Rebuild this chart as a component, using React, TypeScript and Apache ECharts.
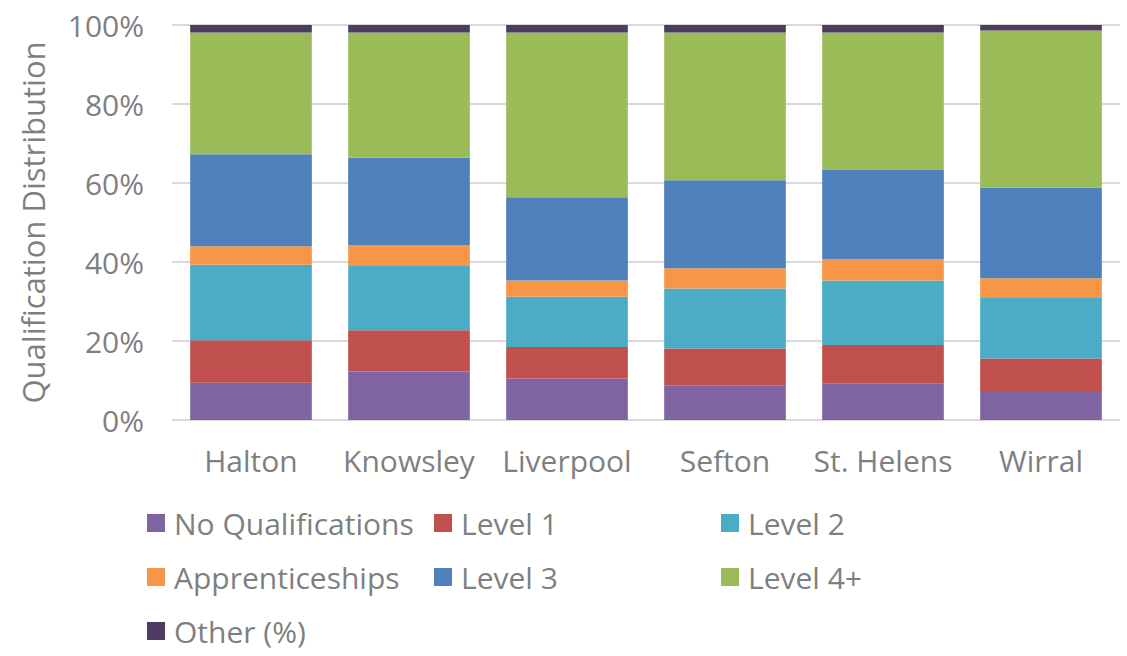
import React, { useEffect, useRef } from "react";
import * as echarts from "echarts";

const categories = ["Halton", "Knowsley", "Liverpool", "Sefton", "St. Helens", "Wirral"];
const noQualifications = [9.4, 12.3, 10.5, 8.8, 9.3, 7.1];
const level1 = [10.8, 10.4, 8.0, 9.3, 9.7, 8.5];
const level2 = [19.1, 16.3, 12.7, 15.2, 16.3, 15.3];
const apprenticeships = [4.7, 5.3, 4.1, 5.1, 5.4, 5.0];
const level3 = [23.3, 22.1, 21.1, 22.3, 22.6, 22.9];
const level4 = [30.8, 31.7, 41.7, 37.4, 34.8, 39.8];
const other = [1.9, 1.9, 1.9, 1.9, 1.9, 1.4];
const yTicks = [0, 20, 40, 60, 80, 100];

const FONT = "Open Sans";
const GREY = "#7f7f7f";
const FS = 30;

export default function App() {
  const ref = useRef<HTMLDivElement>(null);
  useEffect(() => {
    if (!ref.current) return;
    const chart = echarts.init(ref.current, undefined, { renderer: "svg" });
    const mk = (name: string, data: number[], color: string) => ({
      name,
      type: "bar",
      stack: "total",
      data,
      barCategoryGap: "23%",
      itemStyle: { color },
    });
    const legendText = { color: GREY, fontSize: FS, fontFamily: FONT, padding: [0, 0, 0, 4] };
    const legendBase = {
      orient: "vertical" as const,
      itemWidth: 18,
      itemHeight: 18,
      icon: "rect",
      itemGap: 24,
      textStyle: legendText,
      padding: 0,
      selectedMode: false,
    };
    chart.setOption({
      animation: false,
      textStyle: { fontFamily: FONT },
      grid: { left: 172, right: 7, top: 25, bottom: 236 },
      legend: [
        { ...legendBase, left: 147, top: 508, data: ["No Qualifications", "Apprenticeships", "Other (%)"] },
        { ...legendBase, left: 434, top: 508, data: ["Level 1", "Level 3"] },
        { ...legendBase, left: 721, top: 508, data: ["Level 2", "Level 4+"] },
      ],
      xAxis: {
        type: "category",
        data: categories,
        axisLine: { show: false },
        axisTick: { show: false },
        axisLabel: { color: GREY, fontSize: FS, fontFamily: FONT, margin: 25, interval: 0 },
      },
      yAxis: {
        type: "value",
        min: yTicks[0],
        max: yTicks[yTicks.length - 1],
        interval: 20,
        name: "Qualification Distribution",
        nameLocation: "middle",
        nameGap: 124,
        nameTextStyle: { color: GREY, fontSize: 31, fontFamily: FONT },
        axisLabel: { color: GREY, fontSize: FS, fontFamily: FONT, formatter: "{value}%", margin: 28 },
        splitLine: { lineStyle: { color: "#d9d9d9", width: 2 } },
      },
      series: [
        mk("No Qualifications", noQualifications, "#8064a2"),
        mk("Level 1", level1, "#c0504d"),
        mk("Level 2", level2, "#4bacc6"),
        mk("Apprenticeships", apprenticeships, "#f79646"),
        mk("Level 3", level3, "#4f81bd"),
        mk("Level 4+", level4, "#9bbb59"),
        mk("Other (%)", other, "#4d3b62"),
      ],
    });
    return () => chart.dispose();
  }, []);
  return <div ref={ref} style={{ width: 1127, height: 656, position: "absolute", left: 0, top: 0 }} />;
}
